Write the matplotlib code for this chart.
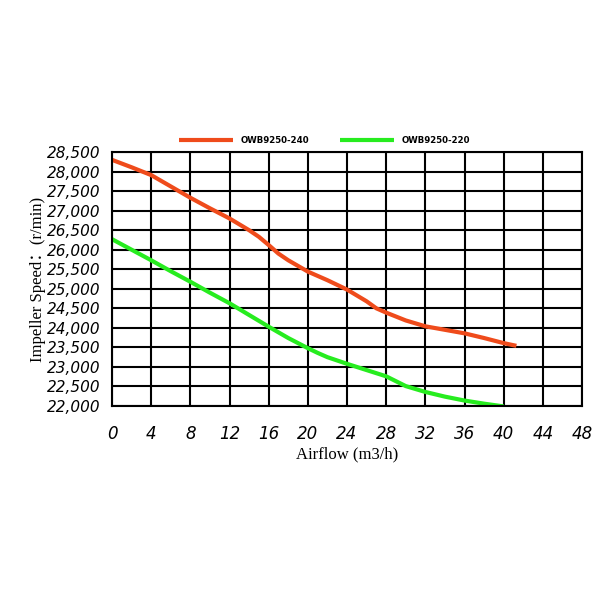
import matplotlib.pyplot as plt

# OWB9250-240 curve (red)
x_240 = [0, 2, 4, 6, 8, 10, 12, 14, 15, 16, 17, 18, 20, 22, 24, 26, 27, 28, 30, 32, 34, 36, 38, 40, 41.3]
y_240 = [28300, 28110, 27910, 27620, 27330, 27060, 26800, 26500, 26330, 26120, 25900, 25730, 25440, 25220, 24980, 24680, 24500, 24390, 24190, 24040, 23950, 23860, 23740, 23610, 23540]

# OWB9250-220 curve (green)
x_220 = [0, 2, 4, 6, 8, 10, 12, 14, 16, 18, 20, 21, 22, 24, 26, 28, 30, 32, 34, 36, 38, 40]
y_220 = [26270, 26000, 25730, 25450, 25180, 24900, 24630, 24330, 24030, 23740, 23480, 23360, 23250, 23080, 22920, 22760, 22510, 22360, 22240, 22140, 22060, 21990]

x_ticks = list(range(0, 49, 4))
y_ticks = list(range(22000, 28501, 500))
y_tick_labels = [f"{v:,}" for v in y_ticks]

fig = plt.figure(figsize=(6, 6), dpi=100)
ax = fig.add_axes([0.1867, 0.3233, 0.7833, 0.4233])

ax.plot(x_240, y_240, color='#ef4b1b', lw=3, solid_capstyle='butt', label='OWB9250-240')
ax.plot(x_220, y_220, color='#27ec1f', lw=3, solid_capstyle='butt', label='OWB9250-220')

ax.set_xlim(0, 48)
ax.set_ylim(22000, 28500)
ax.set_xticks(x_ticks)
ax.set_yticks(y_ticks)
ax.set_xticklabels([str(t) for t in x_ticks], fontsize=12, style='italic')
ax.set_yticklabels(y_tick_labels, fontsize=11, style='italic')
ax.tick_params(length=0, pad=8)
ax.tick_params(axis='x', pad=14)
ax.grid(True, color='black', lw=1.5)
for s in ax.spines.values():
    s.set_linewidth(1.5)
ax.set_axisbelow(True)

ax.set_xlabel('Airflow (m3/h)', family='Liberation Serif', fontsize=12, labelpad=2)
ax.set_ylabel('Impeller Speed：(r/min)', family=['Liberation Serif', 'Noto Sans CJK SC'], fontsize=12, labelpad=1)

# legend sits a bit left of centre in the original
ax.legend(loc='lower center', bbox_to_anchor=(0.452, 1.0), ncol=2, frameon=False,
          prop={'family': 'DejaVu Sans', 'weight': 'bold', 'size': 6.2},
          handlelength=6.3, handletextpad=0.8, columnspacing=3.6, borderaxespad=0.4)

fig.savefig('out.png')
